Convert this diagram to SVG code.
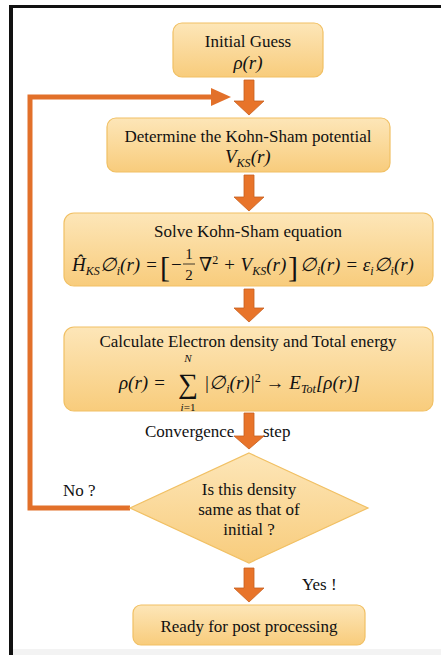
<svg xmlns="http://www.w3.org/2000/svg" width="441" height="655" viewBox="0 0 441 655">
<defs>
<linearGradient id="g" x1="0" y1="0" x2="0" y2="1">
<stop offset="0" stop-color="#fde6b8"/>
<stop offset="1" stop-color="#f8cc7c"/>
</linearGradient>
<style>
.box{fill:url(#g);stroke:#f1c064;stroke-width:1.2}
.t{font-family:"Liberation Serif","Times New Roman",serif;font-size:17px;fill:#111}
.c{text-anchor:middle}
.m{font-family:"Liberation Serif","DejaVu Serif",serif;font-style:italic;font-size:19px;fill:#111}
.s{font-size:12px}
.n{font-style:normal}
.arr{fill:#e8742a;stroke:#c65f1e;stroke-width:0.8}
.fb{fill:none;stroke:#e2702a;stroke-width:5}
</style>
</defs>
<rect x="0" y="0" width="441" height="655" fill="#fff"/>
<rect x="13" y="649" width="428" height="6" fill="#f3f3f3"/>
<rect x="9" y="5" width="432" height="3" fill="#111"/>
<rect x="9" y="5" width="4" height="650" fill="#111"/>

<g id="connectors">
<path class="fb" d="M130,508 H30 V97 H214"/>
<polygon points="211,88 231,97 211,106" fill="#e2702a"/>
<path class="arr" d="M244,80 H254 V101 H264 L249,115 L234,101 H244 Z"/>
<path class="arr" d="M244,175 H254 V197 H264 L249,211 L234,197 H244 Z"/>
<path class="arr" d="M244,289 H254 V308 H264 L249,322 L234,308 H244 Z"/>
<path class="arr" d="M244,413 H254 V436 H264 L249,449 L234,436 H244 Z"/>
<path class="arr" d="M244,568 H254 V588 H264 L249,602 L234,588 H244 Z"/>
<text class="t" x="145" y="437">Convergence</text>
<text class="t" x="263" y="437">step</text>
<text class="t" x="63" y="496">No ?</text>
<text class="t" x="302" y="590">Yes !</text>
</g>

<g id="initial">
<rect class="box" x="173" y="23" width="150" height="54" rx="9"/>
<text class="t c" x="248" y="47">Initial Guess</text>
<text class="m c" x="248" y="69">ρ(r)</text>
</g>

<g id="potential">
<rect class="box" x="107" y="118" width="283" height="54" rx="9"/>
<text class="t c" x="248" y="142">Determine the Kohn-Sham potential</text>
<text class="m" x="225" y="163">V<tspan class="s" dy="4">KS</tspan><tspan dy="-4">(r)</tspan></text>
</g>

<g id="solve">
<rect class="box" x="64" y="213" width="369" height="73" rx="10"/>
<text class="t c" x="248" y="237">Solve Kohn-Sham equation</text>
<text class="m" x="72" y="271">Ĥ<tspan class="s" dy="4">KS</tspan><tspan dy="-4">∅</tspan><tspan class="s" dy="4">i</tspan><tspan dy="-4">(r) =</tspan></text>
<text class="m n" x="160" y="277" style="font-size:30px">[</text>
<text class="m n" x="171" y="271">−</text>
<text class="m n c" x="189" y="259" style="font-size:15px">1</text>
<line x1="183" y1="264" x2="195" y2="264" stroke="#111" stroke-width="0.8"/>
<text class="m n c" x="189" y="280" style="font-size:15px">2</text>
<text class="m" x="199" y="271">∇<tspan class="s n" dy="-7">2</tspan><tspan dy="7"> + V</tspan><tspan class="s" dy="4">KS</tspan><tspan dy="-4">(r)</tspan></text>
<text class="m n" x="288" y="277" style="font-size:30px">]</text>
<text class="m" x="300" y="271">∅<tspan class="s" dy="4">i</tspan><tspan dy="-4">(r) = ε</tspan><tspan class="s" dy="4">i</tspan><tspan dy="-4">∅</tspan><tspan class="s" dy="4">i</tspan><tspan dy="-4">(r)</tspan></text>
</g>

<g id="density">
<rect class="box" x="64" y="327" width="369" height="84" rx="10"/>
<text class="t c" x="248" y="347">Calculate Electron density and Total energy</text>
<text class="m" x="119" y="389">ρ(r) =</text>
<text class="m c" x="188" y="362" style="font-size:11px">N</text>
<text class="m n c" x="188" y="393" style="font-size:28px">∑</text>
<text class="m c" x="188" y="411" style="font-size:11px">i<tspan class="n">=1</tspan></text>
<text class="m" x="204" y="389">|∅<tspan class="s" dy="4">i</tspan><tspan dy="-4">(r)|</tspan><tspan class="s n" dy="-7">2</tspan><tspan class="n" dy="7"> → </tspan>E<tspan class="s" dy="4">Tot</tspan><tspan dy="-4">[ρ(r)]</tspan></text>
</g>

<g id="decision">
<polygon points="249,453 368,508 249,563 130,508" fill="url(#g)" stroke="#f1c064" stroke-width="1.2"/>
<text class="t c" x="249" y="495">Is this density</text>
<text class="t c" x="249" y="515">same as that of</text>
<text class="t c" x="249" y="535">initial ?</text>
</g>

<g id="ready">
<rect class="box" x="133" y="605" width="232" height="40" rx="8"/>
<text class="t c" x="249" y="632">Ready for post processing</text>
</g>
</svg>
